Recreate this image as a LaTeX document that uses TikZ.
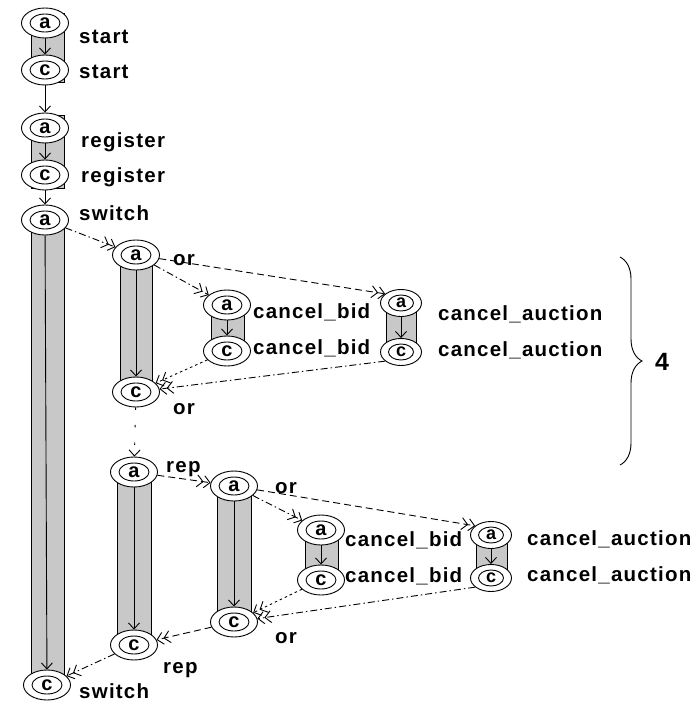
\documentclass[tikz,border=0pt]{standalone}
\usepackage{fontspec}
\setmainfont{Liberation Sans}
\newfontfamily\lblfont{Liberation Sans}[LetterSpace=6]
\usetikzlibrary{shapes.geometric, arrows.meta, decorations.pathreplacing}
\definecolor{barfill}{RGB}{200,200,200}
\tikzset{
  bar/.style={fill=barfill, draw=black, line width=0.9pt},
  evt/.style={ellipse, draw, fill=white, line width=0.9pt,
    minimum width=47pt, minimum height=30pt, inner sep=0pt,
    font=\fontsize{20}{20}\selectfont\bfseries,
    path picture={\draw[line width=0.9pt] (path picture bounding box.center)
      ellipse [x radius=15pt, y radius=9pt];}},
  evts/.style={evt, minimum width=41pt, minimum height=27pt,
    font=\fontsize{18}{18}\selectfont\bfseries,
    path picture={\draw[line width=0.9pt] (path picture bounding box.center)
      ellipse [x radius=12.5pt, y radius=8pt];}},
  lbl/.style={anchor=base west, inner sep=0pt,
    font=\lblfont\fontsize{20.5}{20.5}\selectfont\bfseries},
  seq/.style={line width=0.9pt, -{Straight Barb[length=6pt,width=11pt]}},
  flow/.style={line width=0.9pt,
    -{Straight Barb[length=6pt,width=12pt] Straight Barb[length=6pt,width=12pt]}},
  dsh/.style={flow, dash pattern=on 7pt off 4pt},
  dshdot/.style={flow, dash pattern=on 7pt off 3pt on 1.5pt off 3pt},
  dots/.style={flow, dash pattern=on 2.5pt off 3pt},
  sparse/.style={seq, dash pattern=on 2.5pt off 15pt},
}
\begin{document}
\begin{tikzpicture}[x=1pt, y=-1pt]
\useasboundingbox (0,0) rectangle (700,703);

% shaded activity bars
\draw[bar] (31,13) rectangle (64,82);
\draw[bar] (31,115) rectangle (64,188);
\draw[bar] (31,215) rectangle (64,687);
\draw[bar] (120,262) rectangle (152,382);
\draw[bar] (211,300) rectangle (244,355);
\draw[bar] (386,303) rectangle (416,350);
\draw[bar] (117,475) rectangle (151,640);
\draw[bar] (217,490) rectangle (251,615);
\draw[bar] (305,533) rectangle (338,578);
\draw[bar] (476,535) rectangle (507,578);

% main column
\node[evt] (sa) at (45,23) {a};
\node[evt] (sc) at (45,70) {c};
\node[evt] (ra) at (45,128) {a};
\node[evt] (rc) at (45,175) {c};
\node[evt] (wa) at (45,220) {a};
\node[evt] (wc) at (47,685) {c};

% first "or" block
\node[evt] (o1a) at (136,255) {a};
\node[evt] (o1c) at (136,392) {c};
\node[evt] (b1a) at (227,305) {a};
\node[evt] (b1c) at (227,351) {c};
\node[evts] (x1a) at (401,303) {a};
\node[evts] (x1c) at (401,352) {c};

% "rep" block
\node[evt] (pa) at (134,472) {a};
\node[evt] (pc) at (134,645) {c};
\node[evt] (o2a) at (234,486) {a};
\node[evt] (o2c) at (234,622) {c};
\node[evt] (b2a) at (321,530) {a};
\node[evt] (b2c) at (321,580) {c};
\node[evts] (x2a) at (491,535) {a};
\node[evts] (x2c) at (491,578) {c};

% labels
\node[lbl] (lsa) at (79,44) {start};
\node[lbl] (lsc) at (79,79) {start};
\node[lbl] (lra) at (81,148) {register};
\node[lbl] (lrc) at (81,183) {register};
\node[lbl] (lwa) at (79,221) {switch};
\node[lbl] (lwc) at (79,698) {switch};
\node[lbl] (lo1a) at (173,265) {or};
\node[lbl] (lo1c) at (173,414) {or};
\node[lbl] (lb1a) at (253,318) {cancel\_bid};
\node[lbl] (lb1c) at (253,354) {cancel\_bid};
\node[lbl] (lx1a) at (438,320) {cancel\_auction};
\node[lbl] (lx1c) at (438,356) {cancel\_auction};
\node[lbl] (lpa) at (166,472) {rep};
\node[lbl] (lpc) at (163,673) {rep};
\node[lbl] (lo2a) at (275,493) {or};
\node[lbl] (lo2c) at (275,643) {or};
\node[lbl] (lb2a) at (345,546) {cancel\_bid};
\node[lbl] (lb2c) at (345,582) {cancel\_bid};
\node[lbl] (lx2a) at (527,545) {cancel\_auction};
\node[lbl] (lx2c) at (527,581) {cancel\_auction};

% arrows inside the bars
\draw[seq] (sa) -- (sc);
\draw[seq] (ra) -- (rc);
\draw[seq] (wa) -- (wc);
\draw[seq] (o1a) -- (o1c);
\draw[seq] (b1a) -- (b1c);
\draw[seq] (x1a) -- (x1c);
\draw[seq] (pa) -- (pc);
\draw[seq] (o2a) -- (o2c);
\draw[seq] (b2a) -- (b2c);
\draw[seq] (x2a) -- (x2c);

% sequence along the main column
\draw[seq] (sc) -- (ra);
\draw[seq] (rc) -- (wa);

% first "or" block flows
\draw[dshdot] (wa) -- (o1a);
\draw[dshdot] (o1a) -- (b1a);
\draw[dsh] (o1a) -- (x1a.150);
\draw[dots] (b1c) -- (o1c);
\draw[dshdot] (x1c.210) -- (o1c);
\draw[sparse] (o1c) -- (pa);

% "rep" block flows
\draw[dsh] (pa) -- (o2a);
\draw[dshdot] (o2a) -- (b2a);
\draw[dsh] (o2a) -- (x2a.150);
\draw[dots] (b2c) -- (o2c);
\draw[dshdot] (x2c.210) -- (o2c);
\draw[dsh] (o2c) -- (pc);
\draw[dshdot] (pc) -- (wc);

% repetition brace
\draw[line width=0.9pt, decorate, decoration={brace, amplitude=22pt}]
  (620,257) -- (620,465);
\node[font=\fontsize{25}{25}\selectfont\bfseries] (cnt) at (662,362) {4};
\end{tikzpicture}
\end{document}
